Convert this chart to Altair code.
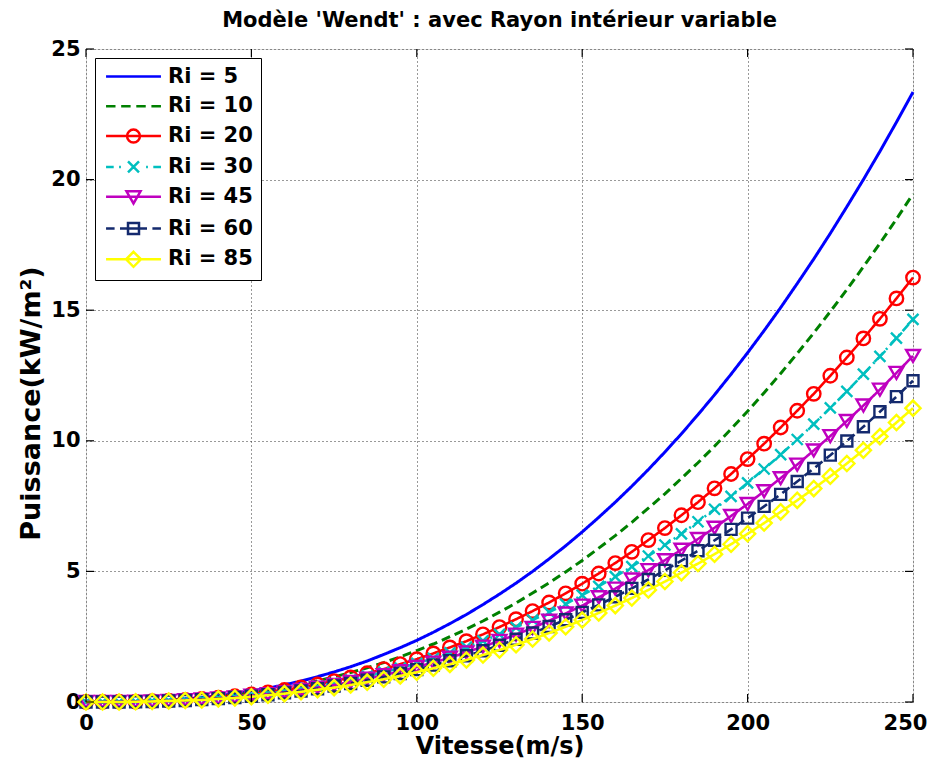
import altair as alt
import pandas as pd

FONT = "DejaVu Sans"

title_text = "Modèle 'Wendt' : avec Rayon intérieur variable"
x_title = "Vitesse(m/s)"
y_title = "Puissance(kW/m²)"

x_ticks = [0, 50, 100, 150, 200, 250]
y_ticks = [0, 5, 10, 15, 20, 25]

v = [0, 5, 10, 15, 20, 25, 30, 35, 40, 45, 50, 55, 60, 65, 70, 75, 80, 85, 90, 95,
     100, 105, 110, 115, 120, 125, 130, 135, 140, 145, 150, 155, 160, 165, 170, 175,
     180, 185, 190, 195, 200, 205, 210, 215, 220, 225, 230, 235, 240, 245, 250]

labels = ["Ri = 5", "Ri = 10", "Ri = 20", "Ri = 30", "Ri = 45", "Ri = 60", "Ri = 85"]

p5 = [0, 0.00, 0.01, 0.02, 0.04, 0.07, 0.12, 0.17, 0.24, 0.32, 0.42, 0.53, 0.66, 0.80, 0.97,
      1.15, 1.35, 1.57, 1.82, 2.08, 2.36, 2.67, 3.00, 3.35, 3.73, 4.13, 4.55, 5.00, 5.48, 5.98,
      6.51, 7.07, 7.65, 8.26, 8.90, 9.57, 10.27, 11.00, 11.76, 12.55, 13.37, 14.22, 15.10,
      16.02, 16.96, 17.94, 18.96, 20.00, 21.08, 22.20, 23.35]
p10 = [0, 0.00, 0.01, 0.02, 0.04, 0.06, 0.10, 0.14, 0.20, 0.27, 0.35, 0.44, 0.55, 0.67, 0.81,
       0.96, 1.13, 1.31, 1.51, 1.73, 1.97, 2.22, 2.50, 2.79, 3.10, 3.44, 3.79, 4.17, 4.56, 4.98,
       5.42, 5.89, 6.37, 6.88, 7.42, 7.97, 8.56, 9.16, 9.79, 10.45, 11.13, 11.84, 12.58, 13.34,
       14.13, 14.95, 15.79, 16.66, 17.56, 18.49, 19.45]
p20 = [0, 0.00, 0.01, 0.01, 0.03, 0.05, 0.08, 0.12, 0.17, 0.22, 0.29, 0.37, 0.46, 0.56, 0.67,
       0.80, 0.94, 1.10, 1.26, 1.45, 1.64, 1.86, 2.09, 2.33, 2.59, 2.87, 3.17, 3.48, 3.81, 4.16,
       4.53, 4.92, 5.32, 5.75, 6.20, 6.66, 7.15, 7.65, 8.18, 8.73, 9.30, 9.89, 10.51, 11.15,
       11.80, 12.49, 13.19, 13.92, 14.67, 15.45, 16.25]
p30 = [0, 0.00, 0.00, 0.01, 0.03, 0.05, 0.07, 0.11, 0.15, 0.20, 0.26, 0.33, 0.41, 0.50, 0.61,
       0.72, 0.85, 0.99, 1.14, 1.30, 1.48, 1.67, 1.88, 2.10, 2.34, 2.59, 2.86, 3.14, 3.44, 3.75,
       4.09, 4.43, 4.80, 5.18, 5.59, 6.01, 6.44, 6.90, 7.38, 7.87, 8.39, 8.92, 9.47, 10.05,
       10.64, 11.26, 11.89, 12.55, 13.23, 13.93, 14.65]
p45 = [0, 0.00, 0.00, 0.01, 0.02, 0.04, 0.07, 0.10, 0.14, 0.18, 0.24, 0.30, 0.37, 0.46, 0.55,
       0.65, 0.77, 0.89, 1.03, 1.18, 1.34, 1.51, 1.70, 1.90, 2.12, 2.34, 2.58, 2.84, 3.11, 3.39,
       3.69, 4.01, 4.34, 4.69, 5.05, 5.43, 5.83, 6.24, 6.67, 7.12, 7.58, 8.07, 8.57, 9.09,
       9.63, 10.18, 10.76, 11.35, 11.96, 12.60, 13.25]
p60 = [0, 0.00, 0.00, 0.01, 0.02, 0.04, 0.06, 0.09, 0.13, 0.17, 0.22, 0.28, 0.35, 0.42, 0.51,
       0.61, 0.71, 0.83, 0.96, 1.09, 1.24, 1.41, 1.58, 1.77, 1.96, 2.17, 2.40, 2.64, 2.89, 3.15,
       3.43, 3.72, 4.03, 4.35, 4.69, 5.04, 5.41, 5.79, 6.19, 6.61, 7.04, 7.49, 7.95, 8.44,
       8.94, 9.45, 9.99, 10.54, 11.11, 11.69, 12.30]
p85 = [0, 0.00, 0.00, 0.01, 0.02, 0.04, 0.06, 0.08, 0.12, 0.15, 0.20, 0.26, 0.32, 0.39, 0.47,
       0.55, 0.65, 0.76, 0.87, 1.00, 1.14, 1.29, 1.44, 1.61, 1.80, 1.99, 2.19, 2.41, 2.64, 2.88,
       3.14, 3.41, 3.69, 3.98, 4.29, 4.61, 4.95, 5.30, 5.66, 6.04, 6.44, 6.85, 7.28, 7.72,
       8.17, 8.64, 9.13, 9.64, 10.16, 10.70, 11.25]

series = [p5, p10, p20, p30, p45, p60, p85]

colors = ["#0000ff", "#008000", "#ff0000", "#00bfbf", "#bf00bf", "#142a6e", "#ffff00"]
dashes = [[1, 0], [9, 5], [1, 0], [9, 4, 2, 4], [1, 0], [9, 5], [1, 0]]
line_widths = [3, 3, 2.6, 2.6, 2.6, 2.6, 2.6]
X_PATH = "M-1,-1L1,1M-1,1L1,-1"
marker_shapes = [None, None, "circle", X_PATH, "triangle-down", "square", "diamond"]
marker_sizes = [0, 0, 180, 121, 190, 121, 230]

# legend symbols: line + marker glyph (unit = 9 px)
legend_paths = [
    "M-3.05,0L3.05,0",
    "M-3.05,0L-2.0,0M-1.37,0L-0.32,0M0.31,0L1.36,0M1.99,0L3.05,0",
    "M-3.05,0L3.05,0M0.72,0A0.72,0.72 0 1,1 -0.72,0A0.72,0.72 0 1,1 0.72,0",
    "M-3.05,0L-2.2,0M-1.6,0L-1.4,0M1.4,0L1.6,0M2.2,0L3.05,0M-0.61,-0.61L0.61,0.61M-0.61,0.61L0.61,-0.61",
    "M-3.05,0L3.05,0M-0.78,-0.6L0.78,-0.6L0,0.75Z",
    "M-3.05,0L-2.1,0M-1.5,0L-0.61,0M0.61,0L1.5,0M2.1,0L3.05,0M-0.61,-0.61L0.61,-0.61L0.61,0.61L-0.61,0.61ZM-0.61,0L0.61,0",
    "M-3.05,0L3.05,0M0,-0.83L0.83,0L0,0.83L-0.83,0Z",
]

W, H = 827, 653
xscale = alt.Scale(domain=[0, 250], nice=False, zero=False)
yscale = alt.Scale(domain=[0, 25], nice=False, zero=False)

x_axis = alt.Axis(values=x_ticks, title=x_title, grid=True, gridDash=[1, 3], gridColor="#333333",
                  gridWidth=1, ticks=False, domain=False, labelFont=FONT, labelFontSize=21,
                  labelFontWeight="bold", labelColor="black", labelPadding=10, labelFlush=False,
                  labelOverlap=False, labelOffset={"expr": "datum.value == 250 ? -8 : 0"},
                  titleFont=FONT, titleFontSize=24, titleFontWeight="bold",
                  titleColor="black", titlePadding=1)
y_axis = alt.Axis(values=y_ticks, title=y_title, format="d", grid=True, gridDash=[1, 3],
                  gridColor="#333333", gridWidth=1, ticks=False, domain=False, labelFont=FONT,
                  labelFontSize=21, labelFontWeight="bold", labelColor="black", labelPadding=6,
                  labelFlush=False, labelOverlap=False, titleFont=FONT, titleFontSize=27,
                  titleFontWeight="bold", titleColor="black", titlePadding=5, titleY=354)

layers = []
for i, (lab, p) in enumerate(zip(labels, series)):
    df = pd.DataFrame({"v": v, "P": p})
    line = alt.Chart(df).mark_line(color=colors[i], strokeDash=dashes[i],
                                   strokeWidth=line_widths[i]).encode(
        x=alt.X("v:Q", scale=xscale, axis=x_axis),
        y=alt.Y("P:Q", scale=yscale, axis=y_axis),
    )
    layers.append(line)
    if marker_shapes[i]:
        pts = alt.Chart(df).mark_point(shape=marker_shapes[i], size=marker_sizes[i], filled=False,
                                       color=colors[i], strokeWidth=2.4, opacity=1).encode(
            x=alt.X("v:Q", scale=xscale, axis=x_axis),
            y=alt.Y("P:Q", scale=yscale, axis=y_axis),
        )
        layers.append(pts)

# inward ticks on the four sides of the box
xt = pd.DataFrame({"v": x_ticks})
yt = pd.DataFrame({"P": y_ticks})
TL = 8
for y0, y1 in [(H, H - TL), (0, TL)]:
    layers.append(alt.Chart(xt).mark_rule(color="black", strokeWidth=1.2).encode(
        x=alt.X("v:Q", scale=xscale, axis=x_axis), y=alt.value(y0), y2=alt.value(y1)))
for x0, x1 in [(0, TL), (W, W - TL)]:
    layers.append(alt.Chart(yt).mark_rule(color="black", strokeWidth=1.2).encode(
        y=alt.Y("P:Q", scale=yscale, axis=y_axis), x=alt.value(x0), x2=alt.value(x1)))

# legend carrier (hidden points, only the legend is visible)
leg_df = pd.DataFrame({"Ri": labels})
legend_layer = alt.Chart(leg_df).mark_point(filled=False, size=324, strokeWidth=2.5,
                                            opacity=1, clip=True).encode(
    x=alt.value(-2000), y=alt.value(-2000),
    color=alt.Color("Ri:N", scale=alt.Scale(domain=labels, range=colors),
                    legend=alt.Legend(title=None, orient="none", legendX=9, legendY=9,
                                      fillColor="white", strokeColor="black", padding=8,
                                      labelFont=FONT, labelFontSize=21, labelFontWeight="bold",
                                      labelColor="black", labelOffset=24, symbolOffset=20,
                                      rowPadding=7.8, symbolSize=324, symbolStrokeWidth=2.5,
                                      labelLimit=300)),
    shape=alt.Shape("Ri:N", scale=alt.Scale(domain=labels, range=legend_paths),
                    legend=alt.Legend(title=None)),
)
layers.append(legend_layer)

chart = alt.layer(*layers).properties(
    width=W, height=H,
    autosize=alt.AutoSizeParams(type="none"),
    padding={"left": 78, "top": 41, "right": 17, "bottom": 57},
    title=alt.Title(title_text, font=FONT, fontSize=21, fontWeight="bold", color="black",
                    offset=7),
).configure_view(stroke="black", strokeWidth=1.3).configure(background="white")

chart.save("out.html", embed_options={"renderer": "svg", "actions": False})
